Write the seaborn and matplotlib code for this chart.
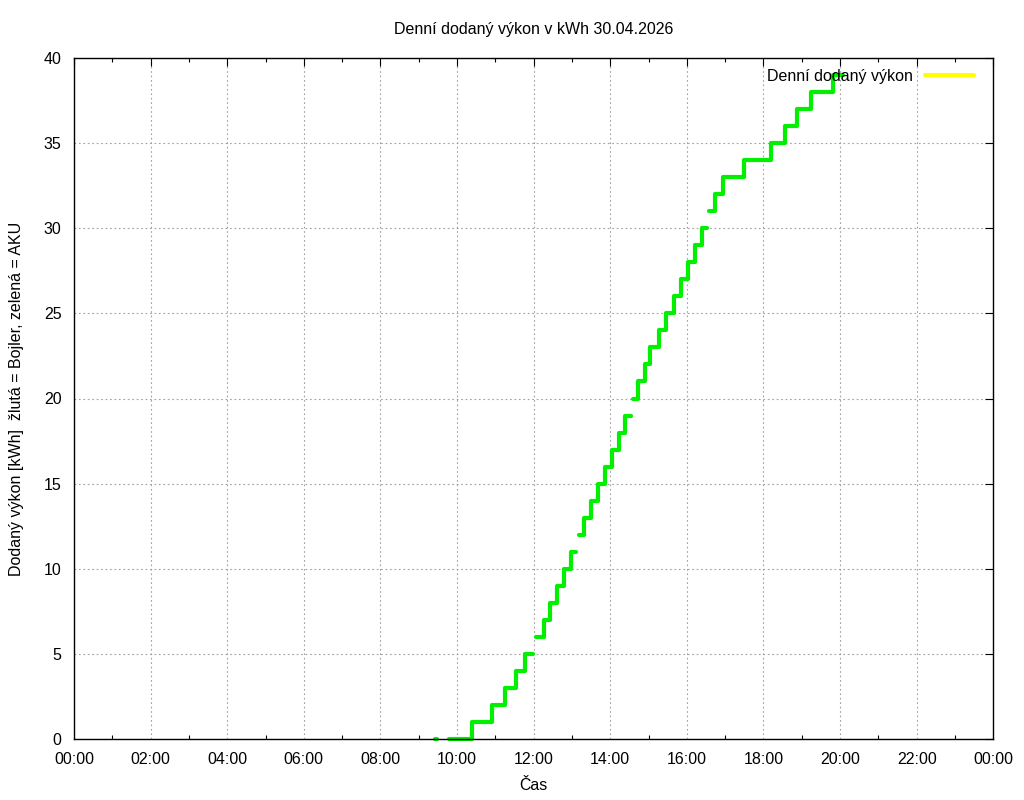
import numpy as np
import pandas as pd
import matplotlib
matplotlib.use("Agg")
import matplotlib.pyplot as plt
from matplotlib.ticker import MultipleLocator, FixedLocator
import seaborn as sns

# step data for the green (AKU) series, hours since midnight
# each segment is drawn separately, there are gaps between them
seg_starts = [
    [9.42],
    [9.79, 10.38, 10.91, 11.25, 11.53, 11.78],
    [12.06, 12.26, 12.43, 12.61, 12.79, 12.98],
    [13.19, 13.32, 13.50, 13.69, 13.87, 14.05, 14.23, 14.39],
    [14.59, 14.72, 14.91, 15.04, 15.27, 15.46, 15.67, 15.84, 16.02, 16.20, 16.39],
    [16.59, 16.74, 16.94, 17.48, 18.20, 18.57, 18.87, 19.23, 19.81],
]
seg_values = [
    [0],
    [0, 1, 2, 3, 4, 5],
    [6, 7, 8, 9, 10, 11],
    [12, 13, 14, 15, 16, 17, 18, 19],
    [20, 21, 22, 23, 24, 25, 26, 27, 28, 29, 30],
    [31, 32, 33, 34, 35, 36, 37, 38, 39],
]
seg_ends = [9.48, 11.99, 13.11, 14.54, 16.52, 20.08]

# yellow (Bojler) series has no data today, only the legend entry
boiler_t = []
boiler_v = []

xtick_labels = ["00:00", "02:00", "04:00", "06:00", "08:00", "10:00", "12:00",
                "14:00", "16:00", "18:00", "20:00", "22:00", "00:00"]

rows = []
for i, (ts, vs, te) in enumerate(zip(seg_starts, seg_values, seg_ends)):
    for t, v in zip(ts, vs):
        rows.append((i, t, v))
    rows.append((i, te, vs[-1]))
df = pd.DataFrame(rows, columns=["seg", "t", "kwh"])

sns.set_theme(style="white")
plt.rcParams["font.family"] = ["Liberation Sans", "DejaVu Sans"]
plt.rcParams["text.color"] = "black"
plt.rcParams["axes.labelcolor"] = "black"

fig = plt.figure(figsize=(10.24, 8), dpi=100)
ax = fig.add_axes([74/1024, 1-739.3/800, (993.3-74)/1024, (739.3-57.7)/800])

ax.plot(boiler_t, boiler_v, color="#ffff00", lw=3, label="Denní dodaný výkon")
sns.lineplot(data=df, x="t", y="kwh", units="seg", estimator=None,
             color="#00f000", lw=3, drawstyle="steps-post", legend=False,
             ax=ax, clip_on=False, zorder=3)

ax.set_xlim(0, 24)
ax.set_ylim(0, 40)
ax.xaxis.set_major_locator(FixedLocator(np.arange(0, 25, 2)))
ax.set_xticklabels(xtick_labels)
ax.xaxis.set_minor_locator(MultipleLocator(1))
ax.yaxis.set_major_locator(MultipleLocator(5))

ax.tick_params(axis="both", which="major", direction="in", length=6, width=0.8,
               color="black", top=True, right=True, labelsize=11.5, labelcolor="black")
ax.tick_params(axis="x", which="major", pad=9)
ax.tick_params(axis="y", which="major", pad=9)
ax.tick_params(axis="x", which="minor", direction="in", length=3, width=0.8,
               color="black", top=True, bottom=True)

ax.grid(True, which="major", color="#a0a0a0", lw=0.8, linestyle=(0, (1.5, 2.5)))
for s in ax.spines.values():
    s.set_color("black")
    s.set_linewidth(1.0)
    s.set_zorder(4)

ax.set_title("Denní dodaný výkon v kWh 30.04.2026", fontsize=11.5, pad=17, color="black")
ax.set_xlabel("Čas", fontsize=11.5, labelpad=8)
ax.set_ylabel("Dodaný výkon [kWh]  žlutá = Bojler, zelená = AKU", fontsize=11.5, labelpad=14)

ax.legend(loc="upper right", bbox_to_anchor=(1 - 8/919.3, 1), frameon=False,
          markerfirst=False, fontsize=11.5, handlelength=3.05,
          borderaxespad=0.3, handletextpad=0.8)

fig.savefig("out.png", dpi=100)
